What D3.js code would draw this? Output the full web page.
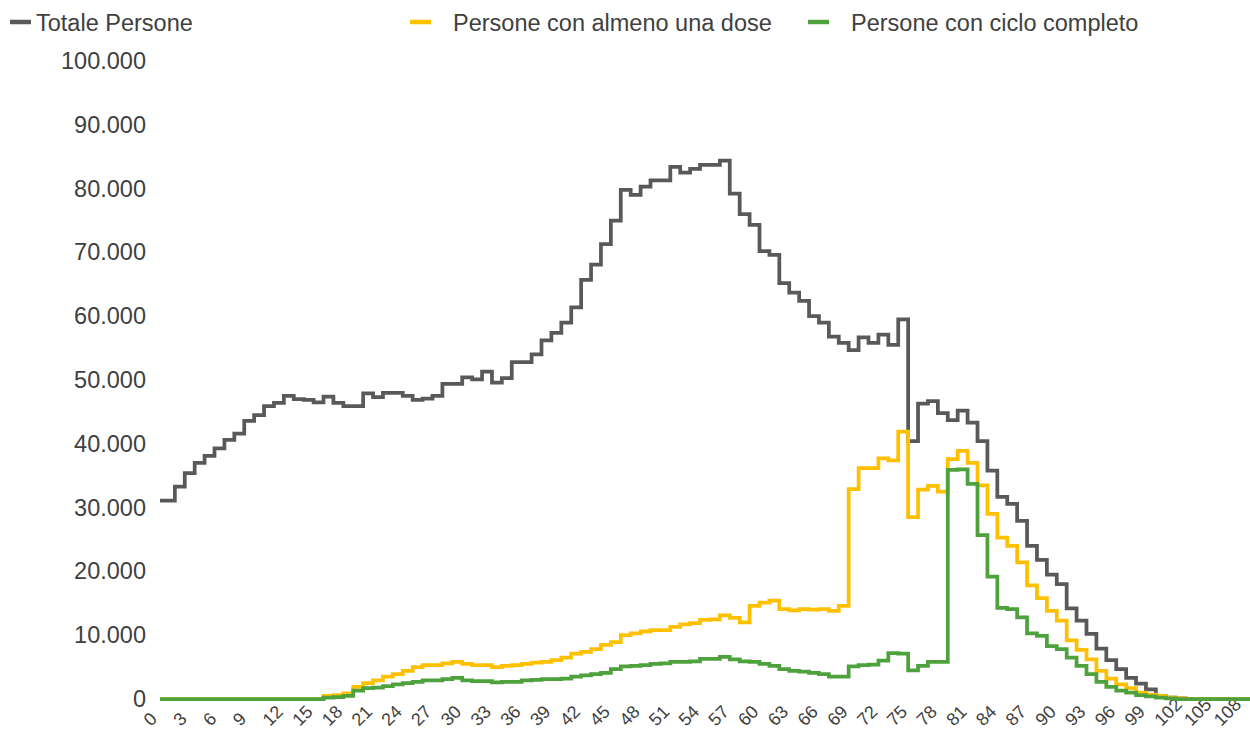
<!DOCTYPE html>
<html>
<head>
<meta charset="utf-8">
<script src="https://cdn.jsdelivr.net/npm/d3@7"></script>
<style>
  body { margin: 0; background: #fff; }
  svg { display: block; font-family: "Liberation Sans", Arial, sans-serif; }
</style>
</head>
<body>
<svg width="1250" height="733"></svg>
<script>
// eta' 0..110
const ages = d3.range(0, 111);
const tickLabels = [0,3,6,9,12,15,18,21,24,27,30,33,36,39,42,45,48,51,54,57,60,63,66,69,72,75,78,81,84,87,90,93,96,99,102,105,108];
const yTicks = [0,10000,20000,30000,40000,50000,60000,70000,80000,90000,100000];

const totale = [
  31100,31100,33300,35400,37000,38100,39300,40600,41600,43600,
  44500,45900,46400,47500,47000,46900,46500,47400,46400,45900,
  45900,47900,47300,48000,48000,47500,46900,47100,47500,49400,
  49400,50400,50100,51300,49600,50300,52800,52800,54000,56200,
  57400,59000,61400,65700,68100,71300,75000,79800,79000,80300,
  81300,81300,83400,82500,83100,83700,83700,84400,79200,76000,
  74300,70200,69600,65200,63700,62400,60000,59000,56800,55800,
  54700,56700,55800,57100,55500,59500,40400,46300,46700,44800,
  43700,45200,43300,40400,35800,31700,30600,27900,24000,21800,
  19500,18000,14200,12300,10200,7900,6100,4700,3300,2400,
  1500,500,200,100,0,0,0,0,0,0,0
];
const almenoUnaDose = [
  0,0,0,0,0,0,0,0,0,0,
  0,0,0,0,0,0,0,500,600,900,
  1900,2500,2900,3500,3900,4400,5000,5300,5300,5600,
  5800,5500,5300,5300,5000,5200,5300,5500,5700,5800,
  6100,6500,7100,7400,7800,8500,8900,10000,10300,10600,
  10800,10800,11300,11700,11900,12400,12500,13100,12700,12000,
  14600,15100,15400,14100,13900,14100,14000,14100,13800,14600,
  32900,36200,36200,37700,37400,41900,28500,32800,33400,32500,
  37600,38900,37000,33500,29000,25300,24000,21400,17800,15800,
  13800,12300,9200,7700,6200,4400,3200,2300,1700,1000,
  700,500,200,100,0,0,0,0,0,0,0
];
const cicloCompleto = [
  0,0,0,0,0,0,0,0,0,0,
  0,0,0,0,0,0,0,200,300,500,
  1300,1700,1800,2000,2300,2500,2700,2900,2900,3100,
  3300,2900,2800,2800,2600,2700,2700,2900,3000,3100,
  3100,3200,3500,3700,3900,4100,4700,5100,5200,5300,
  5500,5600,5800,5800,5900,6300,6300,6600,6200,5900,
  5800,5500,5200,4700,4400,4300,4100,3900,3500,3500,
  5100,5300,5400,6000,7200,7100,4500,5200,5800,5800,
  35900,36000,33700,25700,19200,14300,14100,12800,10300,9900,
  8300,7800,6500,5200,3900,2700,1900,1300,1000,600,
  400,200,100,0,0,0,0,0,0,0,0
];

const seriesNames = ["Totale Persone", "Persone con almeno una dose", "Persone con ciclo completo"];
const seriesColors = ["#595959", "#ffc000", "#4ea23d"];
const seriesValues = [totale, almenoUnaDose, cicloCompleto];

let svg = d3.select("svg");
let textColor = "#404040";

let x = d3.scaleLinear().domain([0, 110]).range([160, 1250]);
let y = d3.scaleLinear().domain([0, 100000]).range([699, 61]);

let it = d3.formatLocale({decimal: ",", thousands: ".", grouping: [3], currency: ["€", ""]});
let fmt = it.format(",");

// asse y, solo etichette
let yAxis = svg.append("g")
  .attr("transform", "translate(146,0)")
  .call(d3.axisLeft(y).tickValues(yTicks).tickSize(0).tickPadding(0).tickFormat(fmt));
yAxis.select(".domain").remove();
yAxis.selectAll("text")
  .attr("font-size", "23.5px")
  .attr("font-family", "Liberation Sans, Arial, sans-serif")
  .attr("fill", textColor);

// asse x: etichette ruotate di 45 gradi
let xAxis = svg.append("g");
xAxis.selectAll("g")
  .data(tickLabels)
  .enter().append("g")
  .attr("transform", d => "translate(" + (x(d) - 9) + ",727)")
  .append("text")
  .attr("transform", "rotate(-45)")
  .attr("text-anchor", "start")
  .style("font-size", "18px")
  .attr("fill", textColor)
  .text(d => d);

// linee a gradini
let line = d3.line()
  .x((d, i) => x(ages[i]))
  .y(d => y(d))
  .curve(d3.curveStep);

svg.append("g")
  .selectAll("path")
  .data(seriesValues)
  .enter().append("path")
  .attr("d", line)
  .attr("fill", "none")
  .attr("stroke", (d, i) => seriesColors[i])
  .attr("stroke-width", 3.75)
  .attr("stroke-linejoin", "miter");

// legenda
let legendX = [10, 410, 808];
let legend = svg.append("g").selectAll("g")
  .data(seriesNames)
  .enter().append("g")
  .attr("transform", (d, i) => "translate(" + legendX[i] + ",22)");
legend.append("line")
  .attr("x1", 0).attr("x2", 21)
  .attr("y1", 0).attr("y2", 0)
  .attr("stroke", (d, i) => seriesColors[i])
  .attr("stroke-width", 4.5);
legend.append("text")
  .attr("x", (d, i) => i == 0 ? 26 : 43)
  .attr("y", 8.5)
  .attr("font-size", "23.5px")
  .attr("fill", textColor)
  .text(d => d);
</script>
</body>
</html>
